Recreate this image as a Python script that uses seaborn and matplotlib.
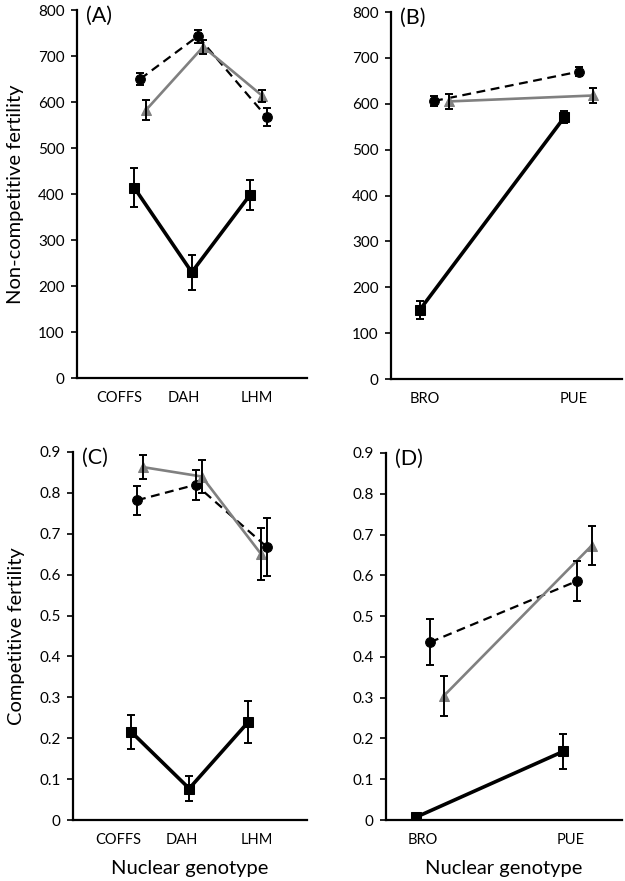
import matplotlib
matplotlib.use("Agg")
import matplotlib.pyplot as plt
import seaborn as sns
import numpy as np
import pandas as pd

sns.set_theme(style="white")
plt.rcParams['font.family'] = ['Lato', 'DejaVu Sans']

# ---------------- data ----------------
cats_AC = ["COFFS", "DAH", "LHM"]
cats_BD = ["BRO", "PUE"]
series = ["square", "circle", "triangle"]

# (A) Non-competitive fertility
A_sq = [414, 230, 398]
A_sq_err = [43, 38, 32]
A_ci = [650, 743, 567]
A_ci_err = [12, 14, 20]
A_tr = [583, 720, 614]
A_tr_err = [22, 15, 13]

# (B) Non-competitive fertility
B_sq = [150, 571]
B_sq_err = [19, 14]
B_ci = [606, 670]
B_ci_err = [10, 10]
B_tr = [605, 618]
B_tr_err = [17, 16]

# (C) Competitive fertility
C_sq = [0.216, 0.077, 0.239]
C_sq_err = [0.042, 0.031, 0.051]
C_ci = [0.782, 0.820, 0.667]
C_ci_err = [0.035, 0.037, 0.071]
C_tr = [0.863, 0.840, 0.650]
C_tr_err = [0.030, 0.040, 0.063]

# (D) Competitive fertility
D_sq = [0.007, 0.168]
D_sq_err = [0.0, 0.042]
D_ci = [0.436, 0.586]
D_ci_err = [0.057, 0.048]
D_tr = [0.305, 0.673]
D_tr_err = [0.049, 0.048]

panel_labels = ["(A)", "(B)", "(C)", "(D)"]
ylabel_top = "Non-competitive fertility"
ylabel_bottom = "Competitive fertility"
xlabel = "Nuclear genotype"
yticks_top = [0, 100, 200, 300, 400, 500, 600, 700, 800]
yticks_bottom = [0, 0.1, 0.2, 0.3, 0.4, 0.5, 0.6, 0.7, 0.8, 0.9]
ytick_labels_bottom = ["0", "0.1", "0.2", "0.3", "0.4", "0.5", "0.6", "0.7", "0.8", "0.9"]

# ---------------- styles / layout ----------------
GREY = "#808080"
styles = {
    "square":   dict(color="black", ls="-",  lw=2.6, marker="s", ms=7.5),
    "circle":   dict(color="black", ls=(0, (4, 2.5)), lw=1.6, marker="o", ms=7),
    "triangle": dict(color=GREY,    ls="-",  lw=1.9, marker="^", ms=7),
}
# horizontal dodge of each series at each category (layout only)
dodge_A = {"square": [-0.08, -0.12, -0.15], "circle": [0.02, -0.02, 0.13], "triangle": [0.12, 0.07, 0.05]}
dodge_C = {"square": [-0.10, -0.13, -0.15], "circle": [0.00, -0.02, 0.17], "triangle": [0.10, 0.08, 0.07]}
dodge_B = {"square": [-0.10, -0.10], "circle": [0.0, 0.0], "triangle": [0.10, 0.10]}
dodge_D = {"square": [-0.095, -0.095], "circle": [0.0, 0.0], "triangle": [0.095, 0.10]}

W, H = 625, 881
fig = plt.figure(figsize=(W / 100, H / 100), dpi=100)

def rect(l, r, t, b):
    return [l / W, 1 - b / H, (r - l) / W, (b - t) / H]

panels = [
    dict(rect=rect(77, 307, 10, 378), cats=cats_AC, dodge=dodge_A,
         vals=dict(square=(A_sq, A_sq_err), circle=(A_ci, A_ci_err), triangle=(A_tr, A_tr_err)),
         xlim=(-1.033, 2.8), tickpos=[-0.333, 0.75, 1.967], ylim=(0, 800), yticks=yticks_top,
         yticklabels=[str(v) for v in yticks_top], ylabel=ylabel_top, xlabel=None),
    dict(rect=rect(391, 622, 12, 379), cats=cats_BD, dodge=dodge_B,
         vals=dict(square=(B_sq, B_sq_err), circle=(B_ci, B_ci_err), triangle=(B_tr, B_tr_err)),
         xlim=(-0.297, 1.297), tickpos=[-0.062, 0.966], ylim=(0, 800), yticks=yticks_top,
         yticklabels=[str(v) for v in yticks_top], ylabel=None, xlabel=None),
    dict(rect=rect(73, 307, 452, 820), cats=cats_AC, dodge=dodge_C,
         vals=dict(square=(C_sq, C_sq_err), circle=(C_ci, C_ci_err), triangle=(C_tr, C_tr_err)),
         xlim=(-1.067, 2.833), tickpos=[-0.317, 0.75, 2.0], ylim=(0, 0.9), yticks=yticks_bottom,
         yticklabels=ytick_labels_bottom, ylabel=ylabel_bottom, xlabel=xlabel),
    dict(rect=rect(386, 622, 453, 820), cats=cats_BD, dodge=dodge_D,
         vals=dict(square=(D_sq, D_sq_err), circle=(D_ci, D_ci_err), triangle=(D_tr, D_tr_err)),
         xlim=(-0.30, 1.306), tickpos=[-0.048, 0.959], ylim=(0, 0.9), yticks=yticks_bottom,
         yticklabels=ytick_labels_bottom, ylabel=None, xlabel=xlabel),
]

for p, lab in zip(panels, panel_labels):
    ax = fig.add_axes(p["rect"])
    idx = np.arange(len(p["cats"]))
    for s in series:
        v, e = p["vals"][s]
        st = styles[s]
        xs = idx + np.array(p["dodge"][s])
        df = pd.DataFrame({"x": xs, "y": v})
        sns.lineplot(data=df, x="x", y="y", ax=ax, color=st["color"], linestyle=st["ls"],
                     linewidth=st["lw"], marker=st["marker"], markersize=st["ms"],
                     markeredgecolor=st["color"], markerfacecolor=st["color"],
                     zorder=3, legend=False, errorbar=None, sort=False)
        ax.errorbar(xs, v, yerr=e, fmt="none", ecolor="black",
                    elinewidth=1.4, capsize=3.2, capthick=1.4, zorder=4)
    ax.set_xlim(*p["xlim"])
    ax.set_ylim(*p["ylim"])
    ax.set_xticks(p["tickpos"])
    ax.set_xticklabels(p["cats"])
    ax.set_yticks(p["yticks"])
    ax.set_yticklabels(p["yticklabels"])
    for sp in ["top", "right"]:
        ax.spines[sp].set_visible(False)
    for sp in ["left", "bottom"]:
        ax.spines[sp].set_color("black")
        ax.spines[sp].set_linewidth(1.6)
    ax.spines["left"].set_zorder(5)
    ax.tick_params(axis="y", which="both", left=True, length=4, width=1.2, color="black",
                   direction="out", pad=5, labelsize=11, labelcolor="black")
    ax.tick_params(axis="x", which="both", bottom=False, length=0, pad=9,
                   labelsize=10.5, labelcolor="black")
    ax.set_xlabel(p["xlabel"] if p["xlabel"] else "", fontsize=14.5, color="black", labelpad=10)
    ax.set_ylabel(p["ylabel"] if p["ylabel"] else "", fontsize=14.5, color="black", labelpad=10)
    ax.text(0.04, 1.01, lab, transform=ax.transAxes, fontsize=15.5, color="black",
            ha="left", va="top")
    ax.set_facecolor("white")
    ax.grid(False)

fig.savefig("out.png", dpi=100, facecolor="white")
